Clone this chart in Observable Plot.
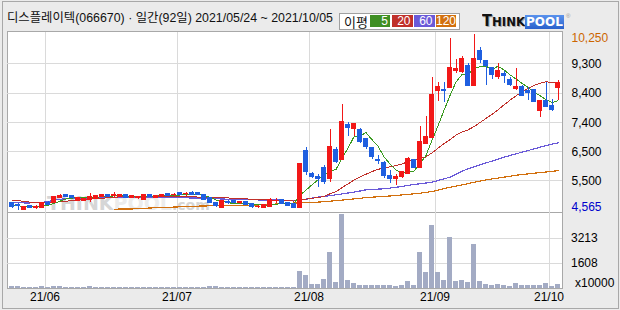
<!DOCTYPE html>
<html><head><meta charset="utf-8">
<script src="https://cdn.jsdelivr.net/npm/d3@7"></script>
<script src="https://cdn.jsdelivr.net/npm/@observablehq/plot@0.6"></script>
<style>
body{margin:0;background:#ebebeb;}
#chart{position:relative;width:620px;height:310px;background:#ebebeb;overflow:hidden;font-family:"Liberation Sans",Arial,sans-serif;}
.abs{position:absolute;box-sizing:border-box;}
#frame{left:2px;top:1px;width:617px;height:308px;border:1px solid #a8a8a8;}
#pricePanel{left:7px;top:31px;width:556px;height:182px;border:1px solid #a8a8a8;background:#fff;}
#volPanel{left:7px;top:212px;width:556px;height:77px;border:1px solid #a8a8a8;background:#fff;}
#title{left:7px;top:10px;font-size:12.5px;line-height:16px;white-space:nowrap;transform-origin:0 0;font-family:"Liberation Sans","Noto Sans CJK KR",sans-serif;color:#111;}
#legend{left:339px;top:13px;width:121px;height:17px;border:1px solid #a0a0a0;background:#fff;}
#legTitle{left:344px;top:14px;font-size:13px;line-height:15px;font-family:"Noto Sans CJK KR",sans-serif;color:#111;}
.legBox{top:15px;height:12px;color:#fff;font-size:12px;line-height:12px;text-align:right;padding-right:2px;}
#logo{left:482px;top:13px;font-weight:bold;color:#111;white-space:nowrap;transform-origin:0 0;font-family:"DejaVu Sans",sans-serif;text-shadow:1px 1px 0 #aaa;line-height:16px;}
#pool{left:525px;top:15px;width:39px;height:14px;background:linear-gradient(#5a92ec,#2a62cc);color:#fff;font-weight:bold;font-size:12px;line-height:14px;text-align:center;font-family:"DejaVu Sans",sans-serif;}
#reg{left:566px;top:13px;font-size:6px;color:#999;}
#wm{left:47px;top:194px;white-space:nowrap;font-weight:bold;line-height:18px;font-family:"DejaVu Sans",sans-serif;}
svg{position:absolute;left:0;}
</style></head>
<body>
<div id="chart">
  <div id="frame" class="abs"></div>
  <div id="title" class="abs">디스플레이텍(066670) · 일간(92일) 2021/05/24 ~ 2021/10/05</div>
  <div id="legend" class="abs"></div>
  <div id="legTitle" class="abs">이평</div>
  <div id="logo" class="abs"><span style="font-size:15px">T</span><span style="font-size:12px">HINK</span></div>
  <div id="pool" class="abs">POOL</div>
  <div id="reg" class="abs">®</div>
  <div id="pricePanel" class="abs"></div>
  <div id="volPanel" class="abs"></div>
  <div id="wm" class="abs"><span style="font-size:19px;color:#d6d6d6">THINK</span><span style="font-size:19px;color:#ececec">POOL</span><span style="font-size:14px;color:#d6d6d6">.com</span></div>
</div>
<script>
// ---- data (price in KRW, volume in x10000 shares) ----
const opens  = [4780,4730,4580,4680,4630,4640,4800,4800,4950,5035,5030,4845,4845,4885,4930,4970,5055,5020,4990,5040,4960,4940,4895,5065,4950,4990,5090,5050,5110,5080,5120,5120,5055,4950,4790,4645,4840,4850,4790,4840,4755,4650,4635,4655,4850,4875,4800,4755,4640,6490,5720,5630,5920,5575,6520,6200,7320,7200,7170,6860,6580,6200,6100,5680,5580,5650,5740,6170,5920,6700,6900,8415,8440,8510,9063,9030,9214,8577,9730,9380,9160,8868,8976,8790,8470,8544,8415,8436,7756,8091,7918,8512];
const highs  = [4820,4760,4680,4710,4700,4810,4830,5010,5060,5050,5040,4960,4940,5090,5030,5070,5070,5120,5075,5050,5020,5000,5080,5080,5040,5080,5100,5110,5120,5140,5160,5130,5070,4970,4800,4860,4880,4860,4850,4850,4770,4710,4745,4930,4930,4890,4820,4770,6080,6600,5790,5720,6010,7170,6580,7980,7410,7370,7190,6880,6590,6320,6130,5840,5730,5800,6280,6210,7280,7590,8850,8710,8700,10130,9440,9550,9300,10250,9840,9390,9190,9300,9060,8870,9160,8598,8544,8470,8120,8706,8134,8760];
const lows   = [4600,4565,4570,4600,4590,4630,4700,4790,4930,4960,4940,4830,4830,4820,4920,4960,4980,4970,4980,4950,4950,4920,4880,4960,4940,4980,5000,4990,5020,5010,5030,5040,4870,4760,4640,4630,4750,4770,4740,4720,4620,4600,4620,4640,4765,4750,4700,4610,4630,5680,5600,5300,5390,5470,6080,6180,6950,6950,6720,6510,6190,6030,5570,5410,5360,5580,5720,5900,5900,6690,6870,8090,8060,8490,8976,9000,8560,8570,9320,8600,8790,8790,8650,8575,8436,8250,8112,8037,7570,7896,7756,8112];
const closes = [4650,4680,4665,4640,4670,4800,4715,4990,5010,4970,4950,4950,4925,4970,5015,5055,4990,5045,5060,4960,5010,4990,5065,4970,5010,5065,5015,5065,5035,5095,5055,5060,4905,4795,4680,4850,4800,4790,4815,4735,4655,4670,4735,4885,4870,4765,4710,4640,6070,5790,5630,5570,5470,6620,6110,7400,7220,7360,6760,6600,6280,6150,5660,5580,5640,5790,6220,5920,6780,6925,8275,8560,8410,9180,9117,9462,8577,9462,9408,9224,8944,9052,8900,8598,8544,8274,8360,8058,8112,7896,7789,8674];
const volumes = [80,90,75,70,75,85,70,95,80,70,70,75,70,80,70,75,70,70,70,70,70,70,75,70,70,70,70,70,70,70,70,70,75,85,80,75,70,70,70,70,75,70,70,75,70,70,70,75,1079,802,225,225,546,2299,373,4719,482,270,177,150,150,177,205,150,85,150,437,150,2299,1014,4012,1014,482,3262,437,482,373,2793,437,225,150,225,150,85,290,150,150,150,150,290,85,225];
const ma5 = [4720,4700,4680,4665,4665,4690,4710,4780,4850,4920,4950,4975,4975,4970,4975,4995,5005,5020,5035,5020,5010,5010,5020,5000,5015,5030,5035,5025,5050,5065,5060,5065,5040,4975,4890,4850,4800,4780,4785,4800,4765,4740,4720,4730,4755,4770,4790,4780,5040,5210,5380,5545,5705,5815,5880,6235,6565,6940,6970,7070,6845,6630,6290,6055,5860,5765,5780,5830,6070,6330,6825,7290,7790,8270,8710,8950,8950,9160,9205,9225,9120,9220,9105,8945,8810,8670,8540,8370,8270,8140,8045,8105];
const ma20 = [4880,4870,4840,4820,4810,4800,4800,4810,4830,4850,4870,4885,4900,4915,4930,4945,4960,4975,4990,5000,5005,5010,5012,5013,5012,5010,5008,5005,5000,4995,4990,4985,4982,4980,4975,4965,4955,4945,4935,4925,4915,4905,4897,4890,4885,4875,4865,4855,4880,4915,4945,4970,5000,5090,5160,5290,5410,5535,5635,5725,5810,5880,5930,5965,6000,6055,6130,6190,6230,6285,6415,6565,6715,6840,6990,7095,7160,7265,7400,7530,7665,7810,7970,8120,8265,8390,8500,8605,8670,8720,8695,8700];
const ma60 = [4800,4800,4795,4795,4800,4810,4840,4880,4910,4930,4945,4950,4955,4958,4960,4962,4965,4965,4966,4966,4965,4965,4966,4967,4966,4965,4964,4962,4960,4958,4955,4952,4948,4940,4930,4922,4915,4910,4905,4900,4895,4892,4890,4888,4887,4885,4882,4878,4885,4915,4950,4981,5005,5030,5057,5085,5115,5143,5180,5219,5232,5242,5251,5275,5300,5330,5360,5391,5415,5440,5467,5520,5575,5628,5720,5820,5900,5965,6029,6090,6150,6215,6276,6330,6385,6438,6490,6545,6600,6648,6695,6742];
const ma120 = [null,null,null,null,null,null,null,null,null,null,null,null,null,null,null,null,null,4592,4595,4598,4600,4605,4620,4630,4640,4645,4650,4660,4668,4675,4685,4690,4695,4700,4703,4706,4710,4713,4716,4720,4725,4730,4738,4748,4758,4770,4780,4790,4798,4805,4812,4820,4835,4850,4868,4885,4905,4925,4945,4965,4980,4993,5003,5020,5037,5053,5070,5088,5110,5135,5165,5210,5255,5300,5340,5380,5420,5460,5498,5540,5570,5600,5628,5660,5690,5715,5735,5755,5775,5795,5818,5840];
const priceTicks  = [4565,5512.5,6460,7407.5,8355,9302.5,10250];
const priceLabels = ["4,565","5,500","6,500","7,400","8,400","9,300","10,250"];
const volTicks  = [1608,3213];
const volLabels = ["1608","3213"];
const volUnit = "x10000";
const monthStart  = [6,28,50,71,90];
const monthLabels = ["21/06","21/07","21/08","21/09","21/10"];
const maNames  = ["5","20","60","120"];
const maColors = ["#3f8f23","#c0302a","#6a5ad8","#d2700e"];
const upColor = "#f21818", downColor = "#1f5fe0", volColor = "#a3abc4", gridColor = "#dadada";

// ---- legend boxes ----
const chart = document.getElementById("chart");
const boxPos = [[370,20],[391.5,21],[413.5,21],[436,20]];
maNames.forEach((n,k)=>{
  const b = document.createElement("div");
  b.className = "abs legBox";
  b.style.left = boxPos[k][0]+"px"; b.style.width = boxPos[k][1]+"px";
  b.style.background = maColors[k];
  b.textContent = n;
  chart.appendChild(b);
});

const rows = opens.map((o,i)=>({i, o, h:highs[i], l:lows[i], c:closes[i], v:volumes[i], m5:ma5[i], m20:ma20[i], m60:ma60[i], m120:ma120[i]}));
const up = rows.filter(d=>d.c>=d.o), down = rows.filter(d=>d.c<d.o);
const xOpts = () => ({type:"band", domain: rows.map(d=>d.i), paddingInner:1/6, paddingOuter:1/12, align:0.5, round:false, axis:null});
const svgStyle = {background:"transparent", overflow:"visible", fontFamily:"Liberation Sans, Arial, sans-serif", fontSize:"12px", shapeRendering:"crispEdges"};

const price = Plot.plot({
  width:620, height:182, marginLeft:8.5, marginRight:59.5, marginTop:3, marginBottom:3.5,
  x: xOpts(), y:{domain:[4565,10250], axis:null},
  style: svgStyle,
  marks:[
    Plot.ruleY(priceTicks.slice(1,-1), {stroke:gridColor, insetLeft:-1.5, insetRight:-1.5}),
    Plot.ruleX(monthStart, {dx:-3, stroke:gridColor, insetTop:-2, insetBottom:-3}),
    Plot.lineY(rows, {x:"i", y:"m120", stroke:maColors[3], strokeWidth:1.2}),
    Plot.lineY(rows, {x:"i", y:"m60", stroke:maColors[2], strokeWidth:1.2}),
    Plot.lineY(rows, {x:"i", y:"m20", stroke:maColors[1], strokeWidth:1}),
    Plot.lineY(rows, {x:"i", y:"m5", stroke:"#3a9a20", strokeWidth:1}),
    Plot.ruleX(up, {x:"i", y1:"l", y2:"h", stroke:upColor}),
    Plot.ruleX(down, {x:"i", y1:"l", y2:"h", stroke:downColor}),
    Plot.barY(up, {x:"i", y1:"o", y2:"c", fill:upColor, insetTop:-0.5, insetBottom:-0.5}),
    Plot.barY(down, {x:"i", y1:"o", y2:"c", fill:downColor, insetTop:-0.5, insetBottom:-0.5}),
    Plot.text(priceTicks.slice(1,-1), {y:d=>d, text:(d,i)=>priceLabels[i+1], frameAnchor:"right", dx:10.5, dy:0.5, textAnchor:"start", fill:"#000"}),
    Plot.text(priceTicks.slice(-1), {y:d=>d, text:()=>priceLabels[priceLabels.length-1], frameAnchor:"right", dx:10.5, dy:4, textAnchor:"start", fill:"#cc6600"}),
    Plot.text(priceTicks.slice(0,1), {y:d=>d, text:()=>priceLabels[0], frameAnchor:"right", dx:10.5, dy:-2.5, textAnchor:"start", fill:"#0000cc"})
  ]
});
price.style.top = "31px";
chart.appendChild(price);

const vol = Plot.plot({
  width:620, height:98, marginLeft:8.5, marginRight:59.5, marginTop:0.6, marginBottom:22.3,
  x: xOpts(), y:{domain:[0,4820], axis:null},
  style: svgStyle,
  marks:[
    Plot.ruleY(volTicks, {stroke:gridColor, insetLeft:-1.5, insetRight:-1.5}),
    Plot.ruleX(monthStart, {dx:-3, stroke:gridColor, insetTop:-0.6, insetBottom:-0.2}),
    Plot.barY(rows, {x:"i", y:"v", fill:volColor}),
    Plot.text(volTicks, {y:d=>d, text:(d,i)=>volLabels[i], frameAnchor:"right", dx:10, dy:0.5, textAnchor:"start", fill:"#000"}),
    Plot.text([volUnit], {text:d=>d, frameAnchor:"bottom-right", dx:14, dy:-1.5, textAnchor:"start", fill:"#000"}),
    Plot.text(monthStart, {x:d=>d, text:(d,i)=>monthLabels[i], frameAnchor:"bottom", dx:-3, dy:12.3, fill:"#000"})
  ]
});
vol.style.top = "212px";
chart.appendChild(vol);

// fit title / logo widths
const t = document.getElementById("title");
t.style.transform = `scaleX(${326 / t.getBoundingClientRect().width})`;
const lg = document.getElementById("logo");
lg.style.transform = `scaleX(${43 / lg.getBoundingClientRect().width})`;
</script>
</body></html>
